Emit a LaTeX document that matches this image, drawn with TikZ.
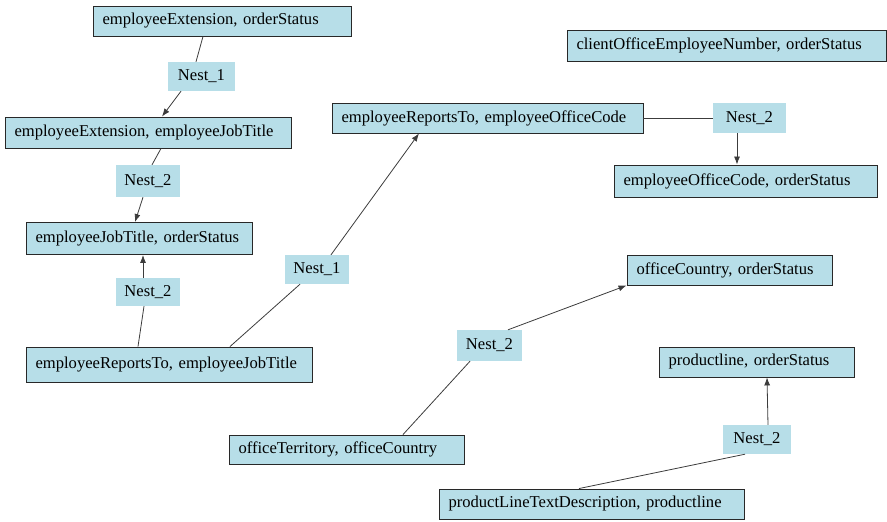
\documentclass[tikz,border=0pt]{standalone}
\usepackage{fontspec}
\setmainfont{Liberation Serif}
\usetikzlibrary{arrows.meta}
\definecolor{boxfill}{RGB}{183,222,232}
\definecolor{boxline}{RGB}{40,40,40}
\definecolor{edgeline}{RGB}{60,60,60}
\begin{document}
\begin{tikzpicture}[x=1pt,y=-1pt,
  every node/.style={font=\fontsize{16.6}{20}\selectfont, inner ysep=0pt},
  relbox/.style 2 args={draw=boxline, line width=0.9pt, fill=boxfill,
    inner xsep=9.5pt, text width=#1pt-19pt, align=left,
    minimum height=#2pt, anchor=center},
  nestlbl/.style 2 args={fill=boxfill, inner xsep=0pt, align=center,
    minimum width=#1pt, minimum height=#2pt, anchor=center},
  link/.style={draw=edgeline, line width=0.8pt},
  flow/.style={link, -{Latex[length=8pt,width=6pt]}}]
\useasboundingbox (0,0) rectangle (887,522);

% relation boxes
\node[relbox={258}{30}] (A) at (222,21) {employeeExtension, orderStatus};
\node[relbox={286}{31}] (B) at (148,132.5) {employeeExtension, employeeJobTitle};
\node[relbox={226}{32}] (C) at (139,238.5) {employeeJobTitle, orderStatus};
\node[relbox={286}{35}] (D) at (169,364.5) {employeeReportsTo, employeeJobTitle};
\node[relbox={311}{30}] (E) at (487.5,118) {employeeReportsTo, employeeOfficeCode};
\node[relbox={263}{32}] (F) at (745.5,181) {employeeOfficeCode, orderStatus};
\node[relbox={319}{31}] (G) at (726.5,45.5) {clientOfficeEmployeeNumber, orderStatus};
\node[relbox={205}{30}] (H) at (729.5,270) {officeCountry, orderStatus};
\node[relbox={195}{30}] (I) at (756.5,362) {productline, orderStatus};
\node[relbox={235}{29}] (J) at (346.5,449.5) {officeTerritory, officeCountry};
\node[relbox={305}{30}] (K) at (591.5,504) {productLineTextDescription, productline};

% nesting labels
\node[nestlbl={67}{29}] (N1) at (201.5,76.5) {Nest\_1};
\node[nestlbl={64}{32}] (N2) at (148,181) {Nest\_2};
\node[nestlbl={64}{28}] (N3) at (148,292) {Nest\_2};
\node[nestlbl={64}{29}] (N4) at (317,269.5) {Nest\_1};
\node[nestlbl={73}{30}] (N5) at (749.5,118) {Nest\_2};
\node[nestlbl={65}{31}] (N6) at (489.5,345.5) {Nest\_2};
\node[nestlbl={68}{29}] (N7) at (757,439.5) {Nest\_2};

% connectors
\draw[link] ([xshift=-19pt]A.south) -- ([xshift=-5.5pt]N1.north);
\draw[flow] ([xshift=-20.5pt]N1.south) -- ([xshift=14pt]B.north);
\draw[link] ([xshift=13pt]B.south) -- ([xshift=4pt]N2.north);
\draw[flow] ([xshift=-5pt]N2.south) -- ([xshift=-4pt]C.north);
\draw[link] ([xshift=-31pt]D.north) -- ([xshift=-4pt]N3.south);
\draw[flow] ([xshift=-5pt]N3.north) -- ([xshift=4pt]C.south);
\draw[link] ([xshift=61pt]D.north) -- ([xshift=-17pt]N4.south);
\draw[flow] ([xshift=14pt]N4.north) -- ([xshift=-68.5pt]E.south);
\draw[link] (E.east) -- (N5.west);
\draw[flow] ([xshift=-12.5pt]N5.south) -- ([xshift=-8.5pt]F.north);
\draw[link] ([xshift=56.5pt]J.north) -- ([xshift=-19.5pt]N6.south);
\draw[flow] ([xshift=18.5pt]N6.north) -- (H.south west);
\draw[link] ([xshift=-12.5pt]K.north) -- ([xshift=-12pt]N7.south);
\draw[flow] ([xshift=11pt]N7.north) -- ([xshift=10.5pt]I.south);
\end{tikzpicture}
\end{document}
